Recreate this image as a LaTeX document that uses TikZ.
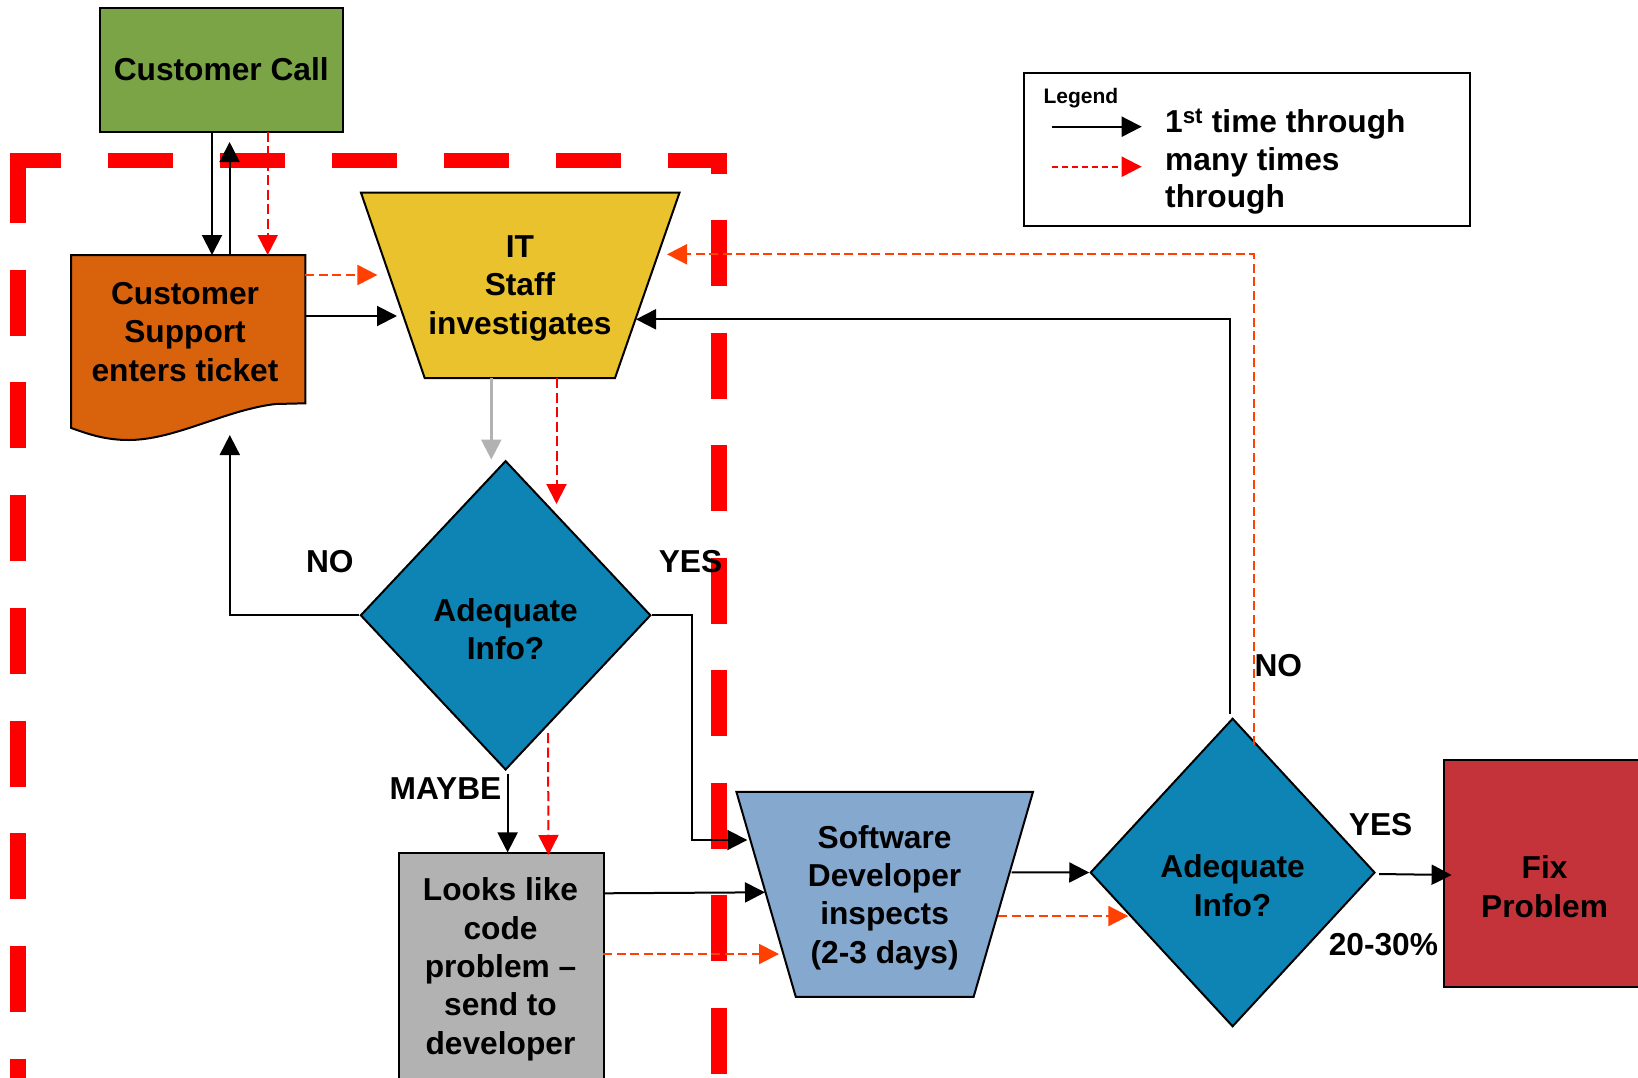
\documentclass[tikz,border=0pt]{standalone}
\usepackage{fontspec}
\setmainfont{Liberation Sans}
\usetikzlibrary{arrows.meta,shapes.geometric}

\definecolor{callgreen}{RGB}{122,164,70}
\definecolor{ticketorange}{RGB}{217,98,12}
\definecolor{ityellow}{RGB}{234,194,45}
\definecolor{decblue}{RGB}{13,132,180}
\definecolor{lookgray}{RGB}{178,178,178}
\definecolor{devblue}{RGB}{133,168,207}
\definecolor{fixred}{RGB}{196,51,58}
\definecolor{loopred}{RGB}{255,0,0}
\definecolor{looporange}{RGB}{255,64,0}
\definecolor{scopered}{RGB}{255,0,0}
\definecolor{passgray}{RGB}{178,178,178}

\tikzset{
  outline/.style={draw=black, line width=2pt},
  nodetext/.style={font=\fontsize{31.7}{38.3}\selectfont\bfseries, align=center, inner sep=0pt},
  tag/.style={font=\fontsize{31.7}{38.3}\selectfont\bfseries, inner sep=0pt, anchor=base},
  tip/.style={-{Triangle[length=20pt,width=20pt]}},
  firstpass/.style={tip, draw=black, line width=2pt},
  greypass/.style={tip, draw=passgray, line width=2.5pt},
  repeatpass/.style={tip, draw=loopred, line width=2pt, dash pattern=on 10pt off 4.5pt},
  repeatpasso/.style={tip, draw=looporange, line width=2pt, dash pattern=on 9pt off 4.5pt},
  scopeline/.style={draw=scopered, line width=16pt},
}

\begin{document}
\begin{tikzpicture}[x=1pt,y=-1pt]
\useasboundingbox (0,0) rectangle (1638,1077);
\clip (0,0) rectangle (1638,1077);
\fill[white] (0,0) rectangle (1638,1077);

% heavy dashed boundary around the support area
\draw[scopeline, line width=15pt, dash pattern=on 65pt off 47pt, dash phase=14pt] (10,160.5) -- (727,160.5);
\draw[scopeline, dash pattern=on 66pt off 46.7pt] (18.4,157) -- (18.4,1090);
\draw[scopeline, dash pattern=on 66pt off 46.5pt, dash phase=45.5pt] (719,153) -- (719,1090);

% customer call
\node[outline, fill=callgreen, minimum width=242.5pt, minimum height=124pt, nodetext] (call) at (221.25,69.5) {Customer Call};

% customer support ticket (document shape)
\draw[outline, fill=ticketorange] (71.2,255) -- (305.3,255) -- (305.3,403.3) -- (275.5,404)
  .. controls (225,410) and (175,440) .. (128.6,440)
  .. controls (105,440) and (88,434) .. (71.2,428) -- cycle;
\node[nodetext] (cs) at (185,331.8) {Customer\\Support\\enters ticket};

% IT staff (inverted trapezoid)
\draw[outline, fill=ityellow] (361,192.7) -- (679.5,192.7) -- (615,378) -- (424.7,378) -- cycle;
\node[nodetext] (it) at (520,288.3) {IT\\Staff\\investigates};

% first decision
\node[diamond, outline, fill=decblue, minimum width=290.4pt, minimum height=309.2pt, inner sep=0pt] (d1) at (505.6,615.3) {};
\node[nodetext] (d1q) at (505.6,629.3) {Adequate\\Info?};

% hand-off box
\node[outline, fill=lookgray, minimum width=205pt, minimum height=260pt, inner sep=0pt, anchor=north west] (look) at (398,852.4) {};
\node[nodetext] (lookq) at (500.5,969.3) {Looks like\\code\\problem \textendash\\send to\\developer};

% software developer (inverted trapezoid)
\draw[outline, fill=devblue] (736.4,791.8) -- (1033,791.8) -- (973.6,996.9) -- (795.8,996.9) -- cycle;
\node[nodetext] (sd) at (884.6,897.6) {Software\\Developer\\inspects\\(2-3 days)};

% second decision
\node[diamond, outline, fill=decblue, minimum width=284.7pt, minimum height=308.4pt, inner sep=0pt] (d2) at (1232.6,872.5) {};
\node[nodetext] (d2q) at (1232.6,885.7) {Adequate\\Info?};

% fix
\node[outline, fill=fixred, minimum width=220pt, minimum height=226.4pt, inner sep=0pt, anchor=north west] (fix) at (1442.5,759.4) {};
\node[nodetext] (fixq) at (1544.6,886.7) {Fix\\Problem};

% branch labels
\node[tag] (no1) at (329.8,572.7) {NO};
\node[tag] (yes1) at (690.5,572.7) {YES};
\node[tag] (maybe1) at (445.5,799.3) {MAYBE};
\node[tag] (no2) at (1278.3,676) {NO};
\node[tag] (yes2) at (1380.6,835) {YES};
\node[tag] (pct) at (1383.4,955) {20-30\%};

% legend
\node[draw=black, line width=2pt, minimum width=446.3pt, minimum height=153.3pt, anchor=north west, inner sep=0pt] (legend) at (1022.7,71.7) {};
\node[font=\fontsize{21}{25}\selectfont\bfseries, anchor=base west, inner sep=0pt] (legendtitle) at (1043.3,103.3) {Legend};
\node[font=\fontsize{31.7}{37.7}\selectfont\bfseries, align=left, anchor=north west, inner sep=0pt] (legendtext) at (1165,108.6) {1\textsuperscript{st} time through\\many times\\through};
\coordinate (k1a) at (1052,126.7);
\coordinate (k1b) at (1141.7,126.7);
\coordinate (k2a) at (1051.7,166.7);
\coordinate (k2b) at (1141.7,166.7);
\draw[firstpass] (k1a) -- (k1b);
\draw[repeatpass, dash pattern=on 6pt off 4pt] (k2a) -- (k2b);

% connection ports
\coordinate (callA) at (212,131.5);
\coordinate (callB) at (229.6,142);
\coordinate (callC) at (267.7,131.5);
\coordinate (csA) at (212,255);
\coordinate (csB) at (229.6,255);
\coordinate (csC) at (267.7,255);
\coordinate (csD) at (305.3,275);
\coordinate (csE) at (305.3,316);
\coordinate (csF) at (229.8,435);
\coordinate (itA) at (377.4,275);
\coordinate (itB) at (397,316);
\coordinate (itC) at (636,319.3);
\coordinate (itD) at (667,254.3);
\coordinate (itE) at (491.3,378);
\coordinate (itF) at (556.5,378);
\coordinate (d1A) at (491.3,459.5);
\coordinate (d1B) at (556.5,504);
\coordinate (d1C) at (507.6,774);
\coordinate (d1D) at (548,733);
\coordinate (lookA) at (507.6,852.4);
\coordinate (lookB) at (548.5,855);
\coordinate (lookC) at (603,893.3);
\coordinate (lookD) at (603,954);
\coordinate (sdA) at (747.3,840);
\coordinate (sdB) at (765,892.3);
\coordinate (sdC) at (779,954);
\coordinate (sdD) at (1011.7,872.3);
\coordinate (sdE) at (998,916);
\coordinate (d2A) at (1128.3,916);
\coordinate (d2B) at (1379,874);
\coordinate (d2C) at (1230,713.5);
\coordinate (d2D) at (1253.7,745);
\coordinate (fixA) at (1451.6,875);

% connectors
\draw[firstpass] (callA) -- (csA);
\draw[firstpass] (csB) -- (callB);
\draw[repeatpass] (callC) -- (csC);
\draw[repeatpasso] (csD) -- (itA);
\draw[firstpass] (csE) -- (itB);
\draw[greypass] (itE) -- (d1A);
\draw[repeatpass] (itF) -- (d1B);
\draw[firstpass] (d1.west) -| (csF);
\draw[firstpass] (d1.east) -- ++(39.8,0) |- (sdA);
\draw[firstpass] (d1C) -- (lookA);
\draw[repeatpass] (d1D) -- (lookB);
\draw[firstpass] (lookC) -- (sdB);
\draw[repeatpasso] (lookD) -- (sdC);
\draw[firstpass] (sdD) -- (d2.west);
\draw[repeatpasso] (sdE) -- (d2A);
\draw[firstpass] (d2B) -- (fixA);
\draw[firstpass] (d2C) |- (itC);
\draw[repeatpasso] (d2D) |- (itD);
\end{tikzpicture}
\end{document}
